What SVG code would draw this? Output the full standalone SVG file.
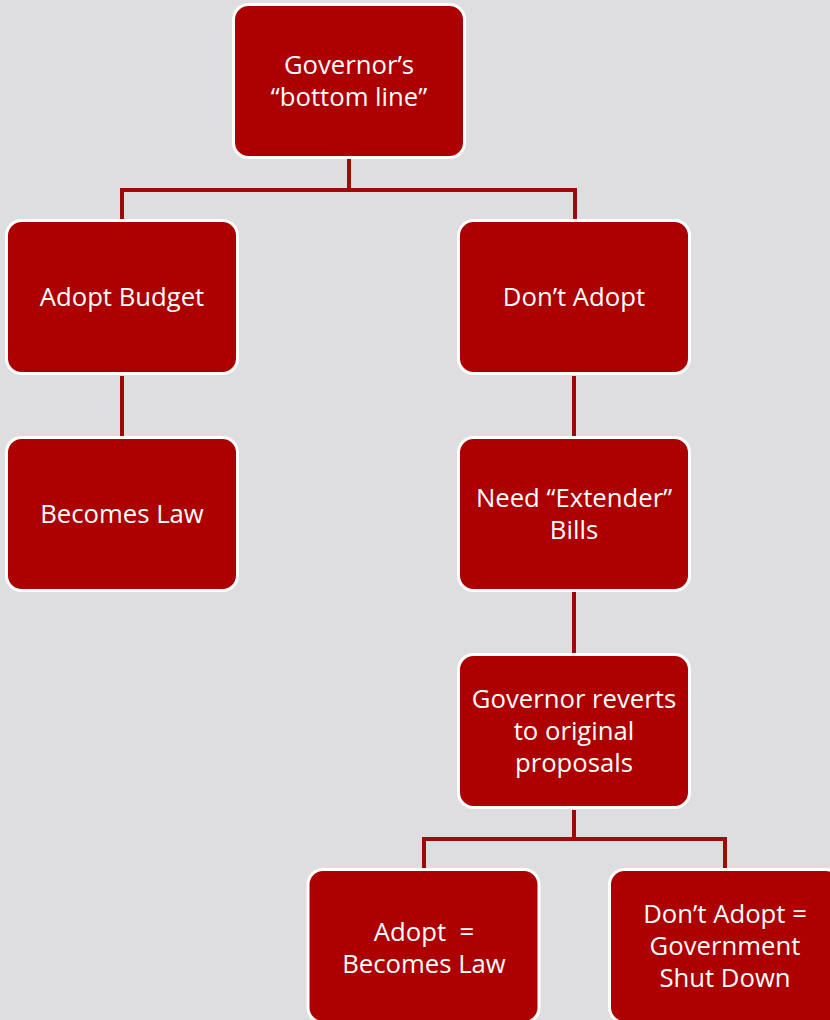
<svg xmlns="http://www.w3.org/2000/svg" width="830" height="1020" viewBox="0 0 830 1020">
<style>
.box{fill:#AD0000;stroke:#FFFFFF;stroke-width:3}
.lbl{font-family:"Open Sans","Liberation Sans",sans-serif;font-size:25.7px;fill:#FFFFFF;text-anchor:middle}
.conn{fill:none;stroke:#9E0A0A;stroke-width:4;stroke-linejoin:miter}
</style>
<rect x="0" y="0" width="830" height="1020" fill="#DEDEE0"/>
<g id="connectors">
<path class="conn" d="M349 159 V190 M122 219 V190 H575 V219"/>
<path class="conn" d="M122 376 V436"/>
<path class="conn" d="M574 376 V436"/>
<path class="conn" d="M574 592 V653"/>
<path class="conn" d="M574 810 V839 M424 868 V839 H725 V868"/>
</g>
<g id="n-governor">
<rect class="box" x="233.5" y="4.5" width="231" height="153" rx="15"/>
<text class="lbl" x="349" y="74">Governor’s</text>
<text class="lbl" x="349" y="106">“bottom line”</text>
</g>
<g id="n-adopt-budget">
<rect class="box" x="6.5" y="220.5" width="231" height="153" rx="15"/>
<text class="lbl" x="122" y="306">Adopt Budget</text>
</g>
<g id="n-dont-adopt">
<rect class="box" x="458.5" y="220.5" width="231" height="153" rx="15"/>
<text class="lbl" x="574" y="306">Don’t Adopt</text>
</g>
<g id="n-becomes-law">
<rect class="box" x="6.5" y="437.5" width="231" height="153" rx="15"/>
<text class="lbl" x="122" y="523">Becomes Law</text>
</g>
<g id="n-extender">
<rect class="box" x="458.5" y="437.5" width="231" height="153" rx="15"/>
<text class="lbl" x="574" y="507">Need “Extender”</text>
<text class="lbl" x="574" y="539">Bills</text>
</g>
<g id="n-reverts">
<rect class="box" x="458.5" y="654.5" width="231" height="153" rx="15"/>
<text class="lbl" x="574" y="708">Governor reverts</text>
<text class="lbl" x="574" y="740">to original</text>
<text class="lbl" x="574" y="772">proposals</text>
</g>
<g id="n-adopt-law">
<rect class="box" x="308" y="869.5" width="231" height="153" rx="15"/>
<text class="lbl" x="424" y="941" xml:space="preserve">Adopt  =</text>
<text class="lbl" x="424" y="973">Becomes Law</text>
</g>
<g id="n-shutdown">
<rect class="box" x="609.5" y="869.5" width="231" height="153" rx="15"/>
<text class="lbl" x="725" y="923">Don’t Adopt =</text>
<text class="lbl" x="725" y="955">Government</text>
<text class="lbl" x="725" y="987">Shut Down</text>
</g>
</svg>
